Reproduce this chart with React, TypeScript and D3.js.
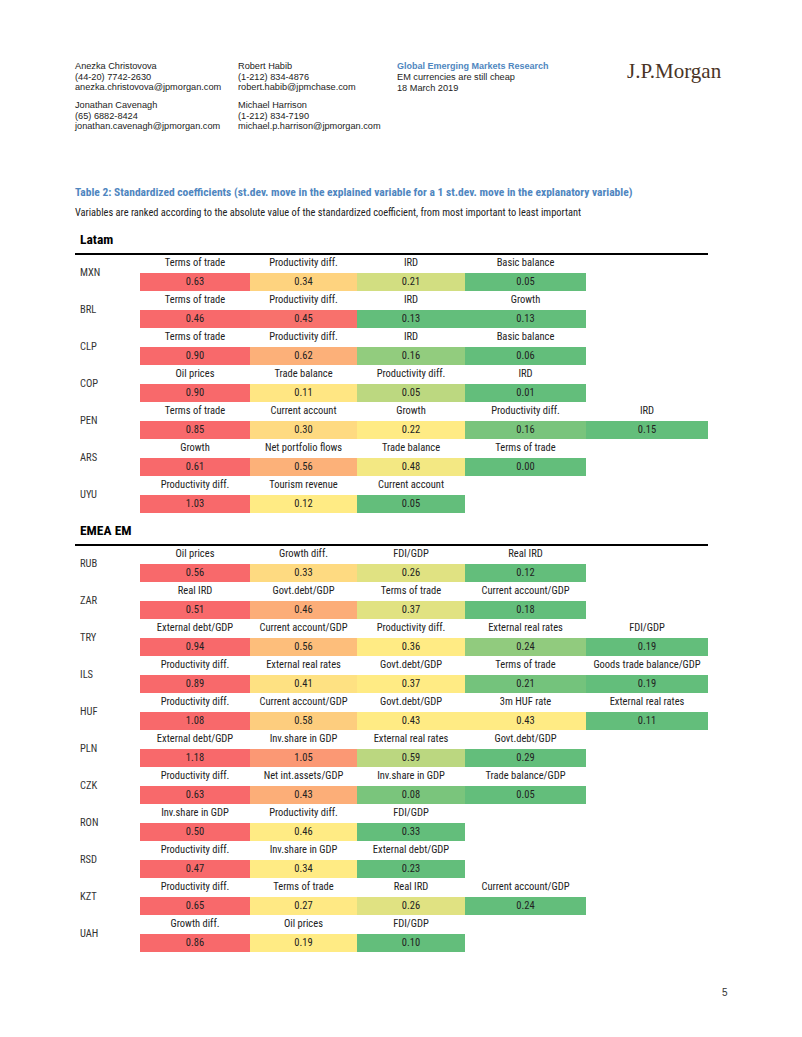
import React from "react";
import * as d3 from "d3";

const latamCountries = ["MXN", "BRL", "CLP", "COP", "PEN", "ARS", "UYU"];
const latamVariables = [
  ["Terms of trade", "Productivity diff.", "IRD", "Basic balance"],
  ["Terms of trade", "Productivity diff.", "IRD", "Growth"],
  ["Terms of trade", "Productivity diff.", "IRD", "Basic balance"],
  ["Oil prices", "Trade balance", "Productivity diff.", "IRD"],
  ["Terms of trade", "Current account", "Growth", "Productivity diff.", "IRD"],
  ["Growth", "Net portfolio flows", "Trade balance", "Terms of trade"],
  ["Productivity diff.", "Tourism revenue", "Current account"],
];
const latamValues = [
  [0.63, 0.34, 0.21, 0.05],
  [0.46, 0.45, 0.13, 0.13],
  [0.9, 0.62, 0.16, 0.06],
  [0.9, 0.11, 0.05, 0.01],
  [0.85, 0.3, 0.22, 0.16, 0.15],
  [0.61, 0.56, 0.48, 0.0],
  [1.03, 0.12, 0.05],
];

const emeaCountries = ["RUB", "ZAR", "TRY", "ILS", "HUF", "PLN", "CZK", "RON", "RSD", "KZT", "UAH"];
const emeaVariables = [
  ["Oil prices", "Growth diff.", "FDI/GDP", "Real IRD"],
  ["Real IRD", "Govt.debt/GDP", "Terms of trade", "Current account/GDP"],
  ["External debt/GDP", "Current account/GDP", "Productivity diff.", "External real rates", "FDI/GDP"],
  ["Productivity diff.", "External real rates", "Govt.debt/GDP", "Terms of trade", "Goods trade balance/GDP"],
  ["Productivity diff.", "Current account/GDP", "Govt.debt/GDP", "3m HUF rate", "External real rates"],
  ["External debt/GDP", "Inv.share in GDP", "External real rates", "Govt.debt/GDP"],
  ["Productivity diff.", "Net int.assets/GDP", "Inv.share in GDP", "Trade balance/GDP"],
  ["Inv.share in GDP", "Productivity diff.", "FDI/GDP"],
  ["Productivity diff.", "Inv.share in GDP", "External debt/GDP"],
  ["Productivity diff.", "Terms of trade", "Real IRD", "Current account/GDP"],
  ["Growth diff.", "Oil prices", "FDI/GDP"],
];
const emeaValues = [
  [0.56, 0.33, 0.26, 0.12],
  [0.51, 0.46, 0.37, 0.18],
  [0.94, 0.56, 0.36, 0.24, 0.19],
  [0.89, 0.41, 0.37, 0.21, 0.19],
  [1.08, 0.58, 0.43, 0.43, 0.11],
  [1.18, 1.05, 0.59, 0.29],
  [0.63, 0.43, 0.08, 0.05],
  [0.5, 0.46, 0.33],
  [0.47, 0.34, 0.23],
  [0.65, 0.27, 0.26, 0.24],
  [0.86, 0.19, 0.1],
];

const W = 802;
const H = 1037;
const colEdges = [140, 250, 357, 465, 586, 708];
const NARROW = "'Liberation Sans Narrow', 'Arial Narrow', 'Roboto Condensed', 'Liberation Sans', Arial, sans-serif";
const SANS = "'Liberation Sans', Arial, Helvetica, sans-serif";
const BLUE = "#4F86C0";

function Section({ title, top, countries, variables, values }: any) {
  const rowPitch = 37;
  const y = d3.scaleLinear().domain([0, 1]).range([top, top + rowPitch]);
  return (
    <g>
      <text x={80} y={top - 14} dominantBaseline="middle" fontFamily={NARROW} fontWeight="bold" fontSize={13.5} fill="#000">
        {title}
      </text>
      <line x1={75} x2={708} y1={top} y2={top} stroke="#000" strokeWidth={2} />
      {countries.map((c: string, i: number) => {
        const vals: number[] = values[i];
        const sorted = [...vals].sort(d3.ascending);
        const color = d3
          .scaleLinear<string>()
          .domain([d3.min(sorted)!, d3.quantile(sorted, 0.5)!, d3.max(sorted)!])
          .range(["#63BE7B", "#FFEB84", "#F8696B"])
          .interpolate(d3.interpolateRgb)
          .clamp(true);
        const r0 = y(i);
        return (
          <g key={c}>
            <text x={80} y={r0 + 19} dominantBaseline="middle" fontFamily={NARROW} fontSize={10.5} fill="#333">
              {c}
            </text>
            {vals.map((v, j) => {
              const x0 = colEdges[j];
              const x1 = colEdges[j + 1];
              const cx = (x0 + x1) / 2;
              const fill = vals.length > 1 && d3.max(vals) !== d3.min(vals) ? color(v) : "#FFEB84";
              return (
                <g key={j}>
                  <text x={cx} y={r0 + 9.5} textAnchor="middle" dominantBaseline="middle" fontFamily={NARROW} fontSize={10.5} fill="#222">
                    {variables[i][j]}
                  </text>
                  <rect x={x0} y={r0 + 19} width={x1 - x0} height={18} fill={fill} />
                  <text x={cx} y={r0 + 28} textAnchor="middle" dominantBaseline="middle" fontFamily={NARROW} fontSize={10.5} fill="#222">
                    {d3.format(".2f")(v)}
                  </text>
                </g>
              );
            })}
          </g>
        );
      })}
    </g>
  );
}

export default function App() {
  const hdr = (x: number, y: number, lines: string[]) =>
    lines.map((l, i) => (
      <text key={l} x={x} y={y + i * 10.5} dominantBaseline="middle" fontFamily={SANS} fontSize={9.2} fill="#222">
        {l}
      </text>
    ));
  return (
    <svg width={W} height={H} style={{ position: "absolute", left: 0, top: 0, background: "#fff" }}>
      <rect width={W} height={H} fill="#fff" />
      {hdr(75, 67, ["Anezka Christovova", "(44-20) 7742-2630", "anezka.christovova@jpmorgan.com"])}
      {hdr(75, 106, ["Jonathan Cavenagh", "(65) 6882-8424", "jonathan.cavenagh@jpmorgan.com"])}
      {hdr(238, 67, ["Robert Habib", "(1-212) 834-4876", "robert.habib@jpmchase.com"])}
      {hdr(238, 106, ["Michael Harrison", "(1-212) 834-7190", "michael.p.harrison@jpmorgan.com"])}
      <text x={397} y={67} dominantBaseline="middle" fontFamily={SANS} fontWeight="bold" fontSize={9} fill={BLUE}>
        Global Emerging Markets Research
      </text>
      <text x={397} y={77.5} dominantBaseline="middle" fontFamily={SANS} fontSize={9.2} fill="#222">
        EM currencies are still cheap
      </text>
      <text x={397} y={89} dominantBaseline="middle" fontFamily={SANS} fontSize={9.2} fill="#222">
        18 March 2019
      </text>
      <text x={627} y={78} fontFamily="'Liberation Serif', 'DejaVu Serif', serif" fontSize={21} fill="#4a3426">
        J.P.Morgan
      </text>
      <text x={75} y={193} dominantBaseline="middle" fontFamily={NARROW} fontWeight="bold" fontSize={11.5} fill={BLUE}>
        Table 2: Standardized coefficients (st.dev. move in the explained variable for a 1 st.dev. move in the explanatory variable)
      </text>
      <text x={75} y={213} dominantBaseline="middle" fontFamily={NARROW} fontSize={10.4} fill="#222">
        Variables are ranked according to the absolute value of the standardized coefficient, from most important to least important
      </text>
      <Section title="Latam" top={254} countries={latamCountries} variables={latamVariables} values={latamValues} />
      <Section title="EMEA EM" top={545} countries={emeaCountries} variables={emeaVariables} values={emeaValues} />
      <text x={722} y={993} dominantBaseline="middle" fontFamily={SANS} fontSize={10} fill="#333">
        5
      </text>
    </svg>
  );
}
